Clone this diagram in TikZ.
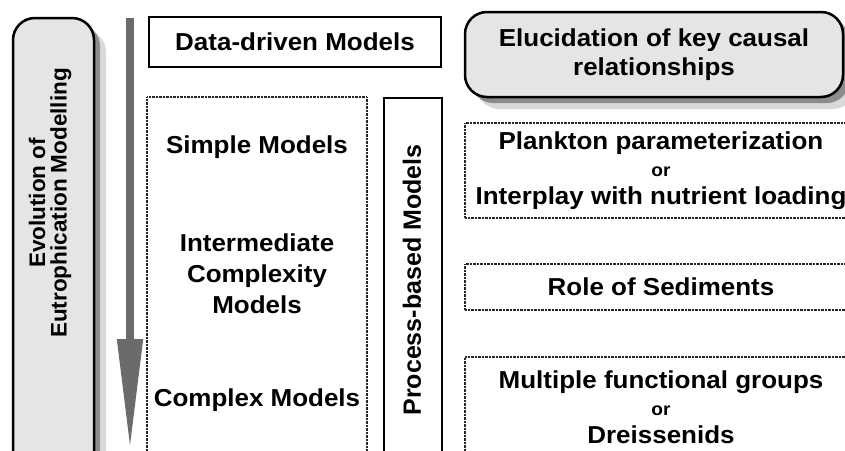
\documentclass[tikz,border=0pt]{standalone}
\usepackage{fontspec}
\setmainfont{Liberation Sans}[FakeStretch=1.06]
\newfontfamily\upfont{Liberation Sans}
\usetikzlibrary{arrows.meta}
\newcommand{\orword}{{\fontsize{18}{27.5}\selectfont or}}
\begin{document}
\begin{tikzpicture}[x=1pt, y=-1pt,
		lbl/.style={font=\bfseries\fontsize{24.5}{28}\selectfont, align=center},
		solidbox/.style={draw, line width=2pt},
		dotbox/.style={draw=black!85, line width=1.3pt, dash pattern=on 0.6pt off 0.8pt, align=center, font=\bfseries\fontsize{24.5}{27.5}\selectfont},
		roundbox/.style={draw, line width=2.5pt, rounded corners=22pt, fill=black!10},
		shadelight/.style={fill=black!15, rounded corners=22pt},
		shadedark/.style={fill=black!45, rounded corners=22pt},
		vertlbl/.style={rotate=90, align=center},
		arrowline/.style={draw=black!58, line width=8pt, -{Triangle[width=24pt, length=111pt]}}]
		\useasboundingbox (0,0) rectangle (845,450);
		\clip (0,0) rectangle (845,450);

		% shadows of the two rounded boxes
		\fill[shadelight] (25,30) rectangle (106,490);
		\fill[shadedark] (19,24) rectangle (100,484);
		\fill[shadelight] (477,24) rectangle (855,109);
		\fill[shadedark] (471,18) rectangle (849,103);

		\node[roundbox, minimum width=81, minimum height=460] (evo) at (53.5,248) {};
		\node[vertlbl, font=\upfont\bfseries\fontsize{22.5}{21.5}\selectfont] (evolbl) at (50,203) {Evolution of\\Eutrophication Modelling};

		\coordinate (arrtop) at (130,18);
		\coordinate (arrtip) at (130,450);
		\draw[arrowline] (arrtop) -- (arrtip);

		\node[solidbox, lbl, minimum width=292, minimum height=50] (data) at (295,42) {Data-driven Models};

		\node[dotbox, minimum width=220, minimum height=380] (procgroup) at (257,287) {};
		\node[lbl] (simple) at (257,147) {Simple Models};
		\node[lbl, font=\bfseries\fontsize{24.5}{31}\selectfont] (inter) at (257,274) {Intermediate\\Complexity\\Models};
		\node[lbl] (complex) at (257,400) {Complex Models};

		\node[solidbox, minimum width=58, minimum height=380] (procbox) at (413,288) {};
		\node[vertlbl, font=\upfont\bfseries\fontsize{25}{25}\selectfont] (proclbl) at (412,280) {Process-based Models};

		\node[roundbox, lbl, font=\bfseries\fontsize{24.5}{29}\selectfont, minimum width=378, minimum height=85] (eluc) at (654,54.5) {Elucidation of key causal\\relationships};

		\node[dotbox, minimum width=392, minimum height=95] (plankton) at (661,170.5) {Plankton parameterization\\\orword\\Interplay with nutrient loading};
		\node[dotbox, minimum width=392, minimum height=46] (sediments) at (661,287) {Role of Sediments};
		\node[dotbox, minimum width=392, minimum height=100] (groups) at (661,407) {Multiple functional groups\\\orword\\Dreissenids};
	\end{tikzpicture}
\end{document}
